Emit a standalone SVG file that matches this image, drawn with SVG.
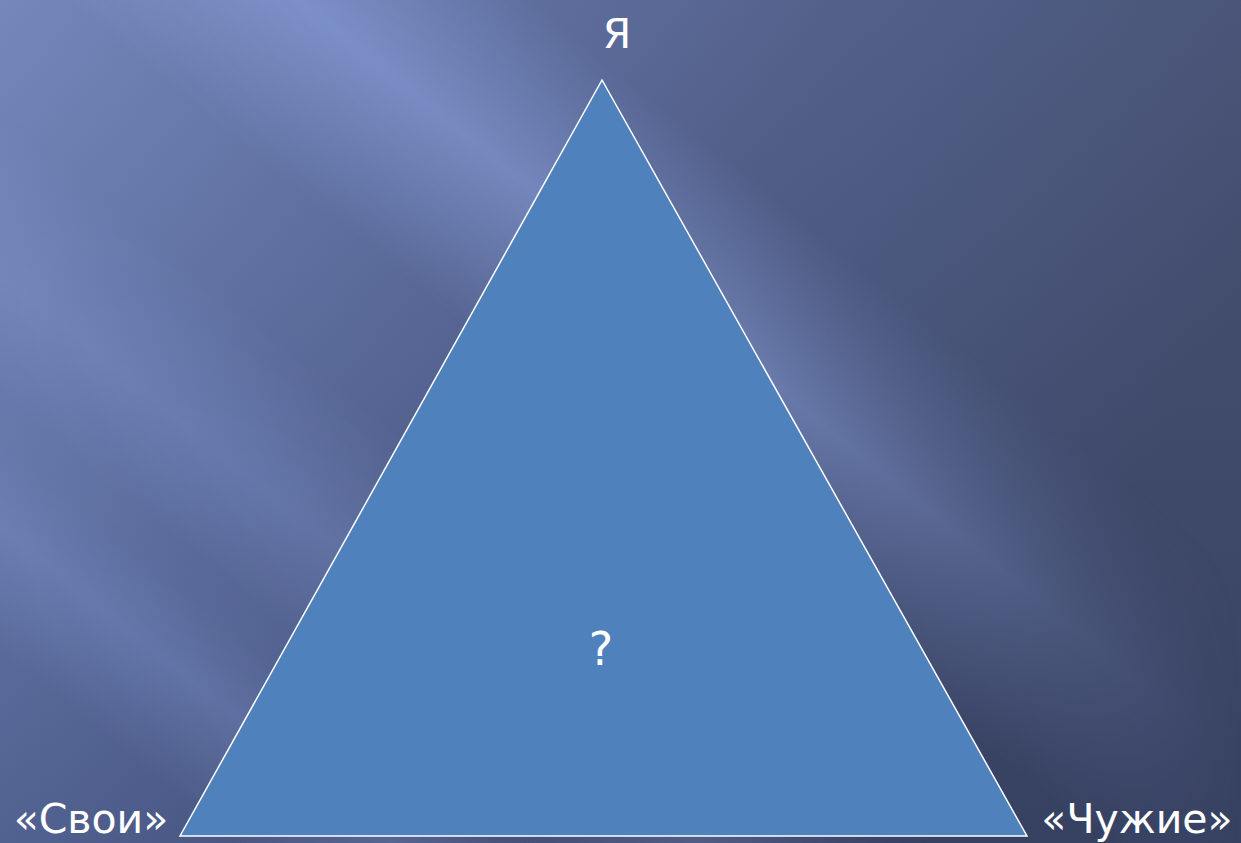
<svg xmlns="http://www.w3.org/2000/svg" width="1241" height="843" viewBox="0 0 1241 843">
<defs>
<linearGradient id="bg" x1="0" y1="0" x2="1" y2="0.35">
<stop offset="0" stop-color="#6b80b6"/>
<stop offset="0.35" stop-color="#56679a"/>
<stop offset="0.6" stop-color="#485783"/>
<stop offset="1" stop-color="#3b4669"/>
</linearGradient>
<linearGradient id="vshade" x1="0" y1="0" x2="0" y2="1">
<stop offset="0" stop-color="#ffffff" stop-opacity="0.06"/>
<stop offset="1" stop-color="#000000" stop-opacity="0.08"/>
</linearGradient>
<linearGradient id="band" x1="0" y1="0" x2="0" y2="1">
<stop offset="0" stop-color="#8aa0dc" stop-opacity="0"/>
<stop offset="0.5" stop-color="#8aa0dc" stop-opacity="0.65"/>
<stop offset="1" stop-color="#8aa0dc" stop-opacity="0"/>
</linearGradient>
<linearGradient id="band2" x1="0" y1="0" x2="0" y2="1">
<stop offset="0" stop-color="#8aa0dc" stop-opacity="0"/>
<stop offset="0.5" stop-color="#8aa0dc" stop-opacity="0.3"/>
<stop offset="1" stop-color="#8aa0dc" stop-opacity="0"/>
</linearGradient>
<linearGradient id="fadeR" x1="0" y1="0" x2="1" y2="0">
<stop offset="0" stop-color="#ffffff" stop-opacity="1"/>
<stop offset="0.6" stop-color="#ffffff" stop-opacity="0.8"/>
<stop offset="1" stop-color="#ffffff" stop-opacity="0"/>
</linearGradient>
<mask id="m">
<rect x="0" y="0" width="1241" height="843" fill="url(#fadeR)"/>
</mask>
</defs>
<style>
.lbl{font-family:"DejaVu Sans","Liberation Sans",sans-serif;fill:#ffffff;text-anchor:middle}
</style>
<rect x="0" y="0" width="1241" height="843" fill="url(#bg)"/>
<rect x="0" y="0" width="1241" height="843" fill="url(#vshade)"/>
<g mask="url(#m)">
<rect x="-1500" y="-60" width="3500" height="300" fill="url(#band)" transform="translate(120 0) rotate(39 300 60)"/>
<rect x="-1500" y="150" width="3500" height="260" fill="url(#band2)" transform="rotate(39 0 300)"/>
<rect x="-1500" y="420" width="3500" height="200" fill="url(#band2)" transform="rotate(39 0 500)"/>
</g>
<g id="triangle">
<polygon points="602,80 180,836 1027,836" fill="#4f81bd" stroke="#ffffff" stroke-width="1.5"/>
</g>
<g id="label-ya"><text class="lbl" x="617" y="48" font-size="41">Я</text></g>
<g id="label-q"><text class="lbl" x="601" y="665" font-size="46">?</text></g>
<g id="label-svoi"><text class="lbl" x="91" y="833" font-size="41">«Свои»</text></g>
<g id="label-chuzhie"><text class="lbl" x="1137" y="833" font-size="41">«Чужие»</text></g>
<g id="connectors"></g>
</svg>
